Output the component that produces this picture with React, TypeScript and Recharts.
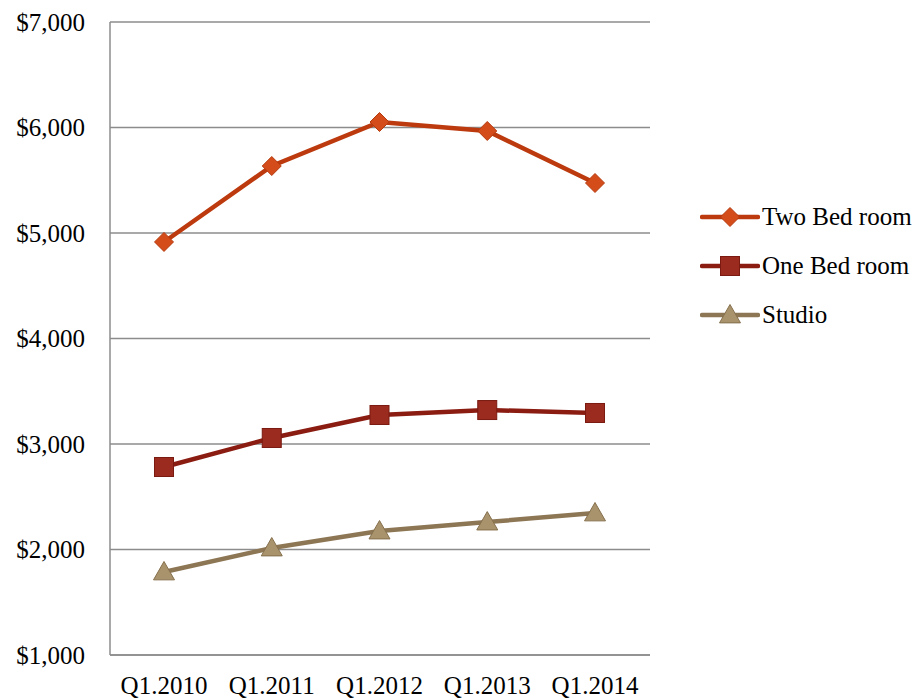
import React from 'react';
import { LineChart, Line, XAxis, YAxis, CartesianGrid } from 'recharts';

const quarters = ['Q1.2010', 'Q1.2011', 'Q1.2012', 'Q1.2013', 'Q1.2014'];
const twoBed = [4915, 5635, 6052, 5967, 5474];
const oneBed = [2782, 3057, 3275, 3322, 3294];
const studio = [1787, 2014, 2175, 2260, 2346];
const yTicks = [1000, 2000, 3000, 4000, 5000, 6000, 7000];

const chartData = quarters.map((q, i) => ({
  name: q,
  'Two Bed room': twoBed[i],
  'One Bed room': oneBed[i],
  Studio: studio[i],
}));

const FONT = '"Liberation Serif", "Times New Roman", serif';

const series = [
  { key: 'Two Bed room', line: '#BC3A0E', fill: '#D54C1B', stroke: '#B53A0E', shape: 'diamond' },
  { key: 'One Bed room', line: '#8A1C12', fill: '#9B2A1F', stroke: '#7A1A10', shape: 'square' },
  { key: 'Studio', line: '#8C7654', fill: '#A8936D', stroke: '#86704D', shape: 'triangle' },
];

const Marker = ({ shape, cx, cy, fill, stroke }: any) => {
  if (cx == null || cy == null) return null;
  if (shape === 'diamond') {
    const r = 9.5;
    return <polygon points={`${cx},${cy - r} ${cx + r},${cy} ${cx},${cy + r} ${cx - r},${cy}`} fill={fill} stroke={stroke} strokeWidth={1} />;
  }
  if (shape === 'square') {
    const r = 9.5;
    return <rect x={cx - r} y={cy - r} width={r * 2} height={r * 2} fill={fill} stroke={stroke} strokeWidth={1} />;
  }
  const r = 10.5;
  return <polygon points={`${cx},${cy - r} ${cx + r},${cy + r * 0.75} ${cx - r},${cy + r * 0.75}`} fill={fill} stroke={stroke} strokeWidth={1} />;
};

// legend drawn outside the chart so it doesn't eat into the plot height
const ChartLegend = () => (
  <div style={{ position: 'absolute', left: 700, top: 192, fontFamily: FONT, fontSize: 25, color: '#000' }}>
    {series.map(s => (
      <div key={s.key} style={{ display: 'flex', alignItems: 'center', height: 49 }}>
        <svg width={60} height={30} style={{ marginRight: 2 }}>
          <line x1={2} y1={15} x2={58} y2={15} stroke={s.line} strokeWidth={4.5} strokeLinecap="round" />
          <Marker shape={s.shape} cx={30} cy={15} fill={s.fill} stroke={s.stroke} />
        </svg>
        <span>{s.key}</span>
      </div>
    ))}
  </div>
);

export default function App() {
  return (
    <div style={{ position: 'absolute', left: 0, top: 0, width: 924, height: 700, background: '#fff' }}>
      <LineChart width={924} height={700} data={chartData} margin={{ top: 22, right: 274, bottom: 15, left: 10 }}>
        <CartesianGrid vertical={false} stroke="#8C8C8C" strokeWidth={1.5} />
        <XAxis
          dataKey="name"
          height={30}
          tickLine={false}
          tickSize={0}
          tickMargin={21}
          padding={{ left: 54, right: 55 }}
          axisLine={{ stroke: '#8C8C8C', strokeWidth: 1.5 }}
          tick={{ fill: '#000', fontSize: 25, fontFamily: FONT }}
          interval={0}
        />
        <YAxis
          width={100}
          domain={[1000, 7000]}
          ticks={yTicks}
          tickLine={false}
          tickSize={0}
          tickMargin={25}
          axisLine={{ stroke: '#8C8C8C', strokeWidth: 1.5 }}
          tick={{ fill: '#000', fontSize: 25, fontFamily: FONT }}
          tickFormatter={(v: number) => `$${v.toLocaleString('en-US')}`}
        />
        {series.map(s => (
          <Line
            key={s.key}
            dataKey={s.key}
            stroke={s.line}
            strokeWidth={4.5}
            isAnimationActive={false}
            dot={(p: any) => <Marker key={`${s.key}-${p.index}`} shape={s.shape} cx={p.cx} cy={p.cy} fill={s.fill} stroke={s.stroke} />}
            activeDot={false}
          />
        ))}
      </LineChart>
      <ChartLegend />
    </div>
  );
}
